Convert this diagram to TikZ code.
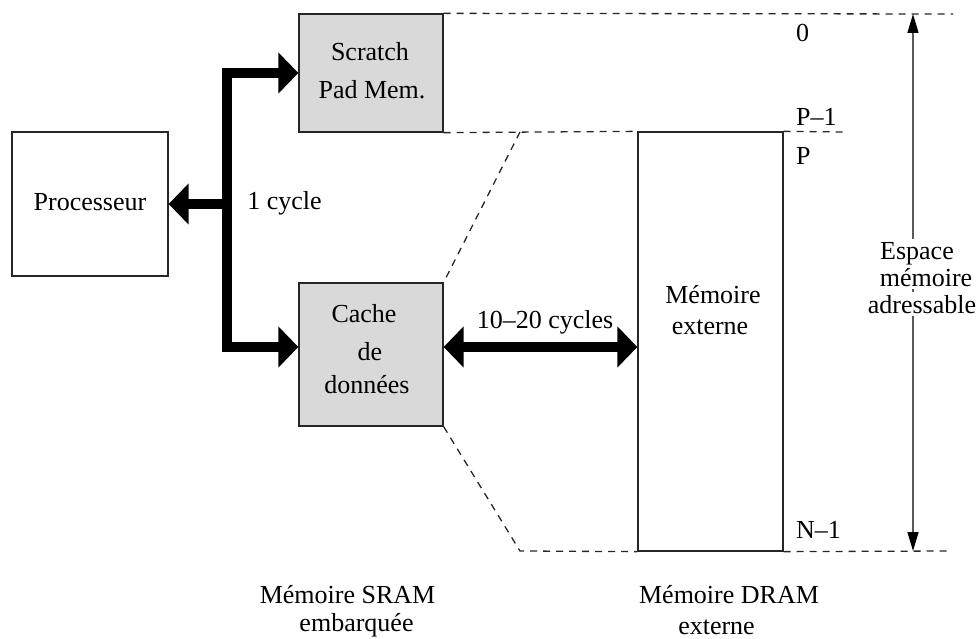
\documentclass[tikz,border=0pt]{standalone}
\usepackage{fontspec}
\setmainfont{Liberation Serif}
\usetikzlibrary{arrows.meta}
\definecolor{boxgray}{RGB}{217,217,217}
\tikzset{
  bigtip/.tip={Triangle[length=20pt,width=40pt]},
  thintip/.tip={Triangle[length=19pt,width=11pt,color=black]}}
\begin{document}
\begin{tikzpicture}[x=1pt,y=-1pt,
  every node/.style={font=\fontsize{26}{30}\selectfont},
  unit/.style={draw=black!85, line width=1.3pt, inner sep=0pt},
  sram/.style={unit, fill=boxgray},
  lbl/.style={inner sep=0pt, anchor=base},
  limit/.style={draw=black!85, line width=1.3pt, dash pattern=on 7pt off 6pt},
  bus/.style={line width=10.5pt, line join=miter, black}]
\useasboundingbox (0,0) rectangle (977,639);

% blocks
\node[unit, minimum width=156pt, minimum height=144pt] (proc) at (90,204) {};
\node[sram, minimum width=144pt, minimum height=118pt] (spm) at (371,73) {};
\node[sram, minimum width=144pt, minimum height=143pt] (cache) at (371,354.5) {};
\node[unit, minimum width=145pt, minimum height=419pt] (mem) at (710.5,341.5) {};

% address-space limits
\coordinate (topend) at (953,14);
\coordinate (pend) at (845,132);
\coordinate (nend) at (949,551);
\coordinate (fold) at (520,132);
\coordinate (foot) at (520,551);
\draw[limit] (spm.north east) -- (topend);
\draw[limit] (spm.south east) -- (mem.north west);
\draw[limit] (mem.north east) -- (pend);
\draw[limit] (fold) -- (cache.north east);
\draw[limit] (cache.south east) -- (foot) -- (mem.south west);
\draw[limit] (mem.south east) -- (nend);

% addressable space arrow
\coordinate (atop) at (913,14);
\coordinate (abot) at (913,551);
\draw[black!65, line width=1.5pt, {thintip}-{thintip}] (atop) -- (abot);

% on-chip bus
\coordinate (busy) at (0,347);
\coordinate (bustop) at (227,73);
\coordinate (busbot) at (227,347);
\coordinate (busmid) at (227,204);
\draw[bus, {bigtip}-{bigtip}] (spm.west) -- (bustop) -- (busbot) -- (cache.west |- busy);
\draw[bus, -{bigtip}] (busmid) -- (proc.east);
\draw[bus, {bigtip}-{bigtip}] (cache.east |- busy) -- (mem.west |- busy);

% texts
\node[lbl] (tproc) at (90,211) {Processeur};
\node[lbl] (tspm1) at (370,61) {Scratch};
\node[lbl] (tspm2) at (372,99) {Pad Mem.};
\node[lbl] (tc1) at (364,322) {Cache};
\node[lbl] (tc2) at (370,360) {de};
\node[lbl] (tc3) at (367,393) {données};
\node[lbl] (tm1) at (713,303) {Mémoire};
\node[lbl] (tm2) at (710,334) {externe};
\node[lbl] (t1c) at (284.5,210) {1 cycle};
\node[lbl] (t10c) at (545,328) {10--20 cycles};
\node[lbl, anchor=base west] (a0) at (796,42) {0};
\node[lbl, anchor=base west] (ap1) at (796,126) {P--1};
\node[lbl, anchor=base west] (ap) at (796,165) {P};
\node[lbl, anchor=base west] (an1) at (796,538) {N--1};
\node[lbl, fill=white, inner sep=3pt] (e1) at (917,259) {Espace};
\node[lbl, fill=white, inner sep=3pt] (e2) at (926,286) {mémoire};
\node[lbl, fill=white, inner sep=3pt] (e3) at (922,313) {adressable};
\node[lbl] (s1) at (347.5,603) {Mémoire SRAM};
\node[lbl] (s2) at (356.5,631) {embarquée};
\node[lbl] (d1) at (729,603) {Mémoire DRAM};
\node[lbl] (d2) at (716.5,634) {externe};
\end{tikzpicture}
\end{document}
